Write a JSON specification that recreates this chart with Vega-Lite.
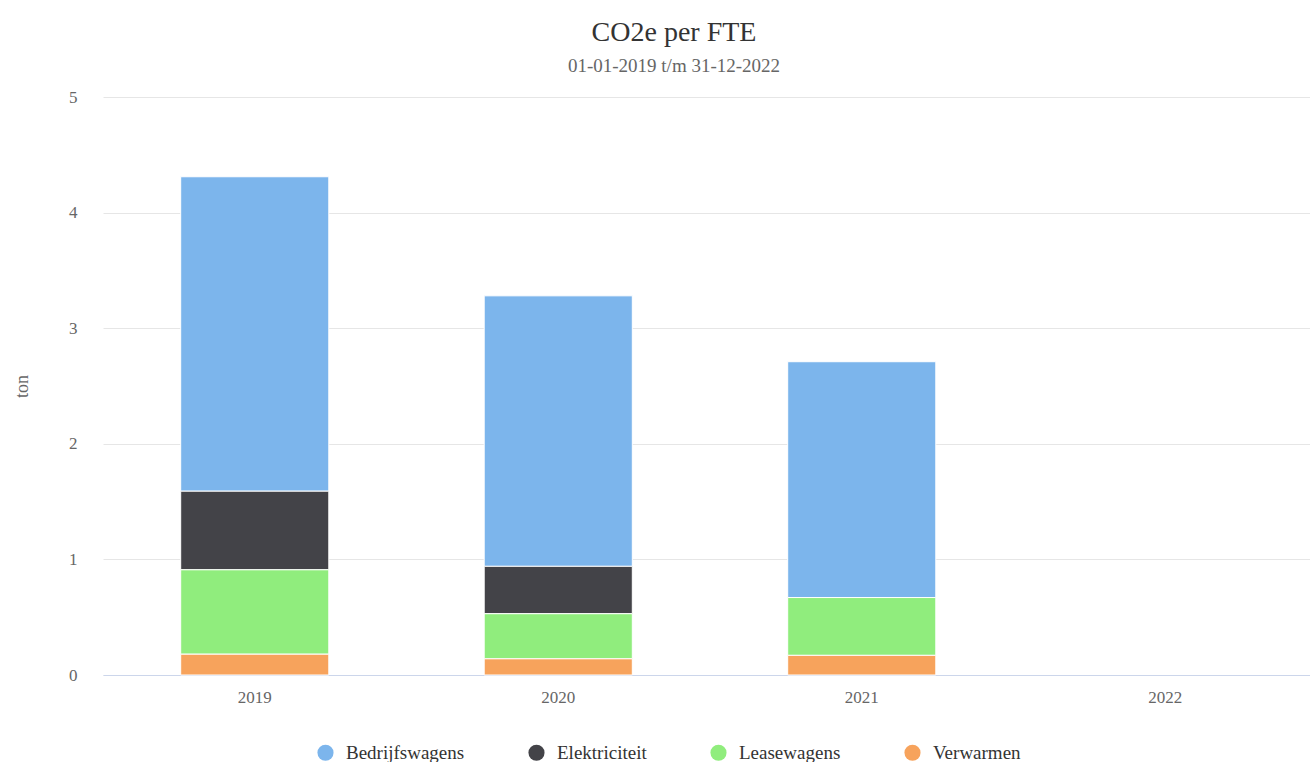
{
  "$schema": "https://vega.github.io/schema/vega-lite/v6.json",
  "autosize": "none",
  "width": 1214,
  "height": 578,
  "padding": {"left": 103, "top": 97, "right": 0, "bottom": 87},
  "background": "#ffffff",
  "title": {
    "text": "CO2e per FTE",
    "subtitle": "01-01-2019 t/m 31-12-2022",
    "anchor": "middle",
    "dx": -36,
    "offset": 12,
    "font": "Liberation Serif",
    "fontSize": 28,
    "fontWeight": "normal",
    "color": "#333333",
    "subtitleFont": "Liberation Serif",
    "subtitleFontSize": 19,
    "subtitleColor": "#666666",
    "subtitlePadding": 10
  },
  "data": {
    "values": [
      {"jaar": "2019", "categorie": "Bedrijfswagens", "ton": 2.72},
      {"jaar": "2019", "categorie": "Elektriciteit", "ton": 0.68},
      {"jaar": "2019", "categorie": "Leasewagens", "ton": 0.73},
      {"jaar": "2019", "categorie": "Verwarmen", "ton": 0.18},
      {"jaar": "2020", "categorie": "Bedrijfswagens", "ton": 2.34},
      {"jaar": "2020", "categorie": "Elektriciteit", "ton": 0.41},
      {"jaar": "2020", "categorie": "Leasewagens", "ton": 0.39},
      {"jaar": "2020", "categorie": "Verwarmen", "ton": 0.14},
      {"jaar": "2021", "categorie": "Bedrijfswagens", "ton": 2.04},
      {"jaar": "2021", "categorie": "Leasewagens", "ton": 0.50},
      {"jaar": "2021", "categorie": "Verwarmen", "ton": 0.17}
    ]
  },
  "mark": {"type": "bar", "stroke": "#ffffff", "strokeWidth": 1},
  "encoding": {
    "x": {
      "field": "jaar",
      "type": "nominal",
      "scale": {"domain": ["2019", "2020", "2021", "2022"], "paddingInner": 0.512, "paddingOuter": 0.256},
      "axis": {
        "title": null,
        "labelAngle": 0,
        "labelFont": "Liberation Serif",
        "labelFontSize": 17,
        "labelColor": "#666666",
        "labelPadding": 14,
        "ticks": false,
        "domainColor": "#ccd6eb",
        "grid": false
      }
    },
    "y": {
      "field": "ton",
      "type": "quantitative",
      "aggregate": "sum",
      "stack": "zero",
      "scale": {"domain": [0, 5], "nice": false},
      "axis": {
        "title": "ton",
        "titleFont": "Liberation Serif",
        "titleFontSize": 18,
        "titleFontWeight": "normal",
        "titleColor": "#666666",
        "titlePadding": 37,
        "values": [0, 1, 2, 3, 4, 5],
        "format": "d",
        "labelFont": "Liberation Serif",
        "labelFontSize": 17,
        "labelColor": "#666666",
        "labelPadding": 26,
        "ticks": false,
        "domain": false,
        "grid": true,
        "gridColor": "#e6e6e6"
      }
    },
    "color": {
      "field": "categorie",
      "type": "nominal",
      "scale": {
        "domain": ["Bedrijfswagens", "Elektriciteit", "Leasewagens", "Verwarmen"],
        "range": ["#7cb5ec", "#434348", "#90ed7d", "#f7a35c"]
      },
      "legend": {
        "title": null,
        "orient": "none",
        "legendX": 213,
        "legendY": 646,
        "direction": "horizontal",
        "symbolType": "circle",
        "symbolSize": 260,
        "symbolStrokeWidth": 0,
        "labelFont": "Liberation Serif",
        "labelFontSize": 19,
        "labelColor": "#333333",
        "labelOffset": 11,
        "columnPadding": 62
      }
    },
    "order": {"field": "categorie", "sort": "descending"}
  },
  "config": {"view": {"stroke": null}}
}
